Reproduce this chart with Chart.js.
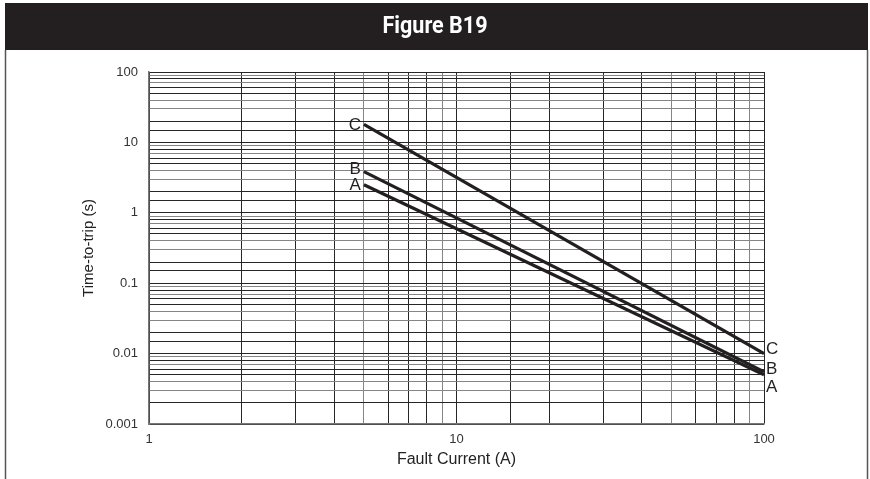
<!DOCTYPE html>
<html>
<head>
<meta charset="utf-8">
<script src="https://cdn.jsdelivr.net/npm/chart.js@4.4.0/dist/chart.umd.min.js"></script>
<style>
  body { margin: 0; background: #fff; }
  canvas { display: block; }
</style>
</head>
<body>
<canvas id="tripChart" width="870" height="479"></canvas>
<script>
// fault current (A) at the two ends of each curve
const currents = [5, 100];
// time-to-trip (s) for each curve
const curveA = [2.5, 0.005];
const curveB = [3.85, 0.0055];
const curveC = [18, 0.01];
const curveNames = ["A", "B", "C"];
const xTicks = [1, 10, 100];
const yTicks = [0.001, 0.01, 0.1, 1, 10, 100];

const INK = "#231f20";
const FONT = "'Liberation Sans', Arial, sans-serif";

function pts(values) {
  return currents.map((x, i) => ({ x: x, y: values[i] }));
}

function matchTick(list, v) {
  return list.find(t => Math.abs(t - v) / t < 1e-6);
}

// grid shade by the leading digit of the tick value (mimics the printed sheet)
function gridShade(v, darkDigits) {
  const lead = Math.round(v / Math.pow(10, Math.floor(Math.log10(v) + 1e-9)));
  return darkDigits.includes(lead) ? "#262626" : "#858585";
}

// header bar, frame lines
const pagePlugin = {
  id: "page",
  beforeDraw(chart) {
    const c = chart.ctx;
    c.save();
    c.fillStyle = "#fff";
    c.fillRect(0, 0, chart.width, chart.height);
    c.fillStyle = INK;
    c.fillRect(5, 3, 863, 47);
    c.fillStyle = "#fff";
    c.font = "bold 24px Roboto, 'Liberation Sans', sans-serif";
    c.textAlign = "center";
    c.textBaseline = "middle";
    // squeeze to a condensed look
    const w = c.measureText("Figure B19").width;
    c.translate(435, 27);
    c.scale(105 / w, 1);
    c.fillText("Figure B19", 0, 0);
    c.restore();
    c.save();
    c.strokeStyle = "#555";
    c.lineWidth = 1.5;
    c.beginPath();
    c.moveTo(5.5, 50); c.lineTo(5.5, chart.height);
    c.moveTo(867.5, 50); c.lineTo(867.5, chart.height);
    c.stroke();
    c.restore();
  }
};

// curve letters at both ends of each line
const curveLabels = {
  id: "curveLabels",
  afterDatasetsDraw(chart) {
    const c = chart.ctx;
    const rightShift = [13, -3, -4];
    const leftShift = [1, -2, 1];
    c.save();
    c.fillStyle = INK;
    c.font = "17px " + FONT;
    c.textBaseline = "middle";
    chart.data.datasets.forEach((ds, i) => {
      const meta = chart.getDatasetMeta(i);
      const first = meta.data[0];
      const last = meta.data[meta.data.length - 1];
      c.textAlign = "right";
      c.fillText(curveNames[i], first.x - 3, first.y + leftShift[i]);
      c.textAlign = "left";
      c.fillText(curveNames[i], last.x + 2, last.y + rightShift[i]);
    });
    c.restore();
  }
};

new Chart(document.getElementById("tripChart"), {
  type: "line",
  data: {
    datasets: [curveA, curveB, curveC].map((vals, i) => ({
      label: curveNames[i],
      data: pts(vals),
      borderColor: INK,
      borderWidth: 3.2,
      pointRadius: 0,
      tension: 0,
      fill: false
    }))
  },
  options: {
    responsive: false,
    animation: false,
    devicePixelRatio: 1,
    layout: { padding: { top: 72, right: 106, left: 80, bottom: 0 } },
    plugins: { legend: { display: false }, tooltip: { enabled: false } },
    scales: {
      x: {
        type: "logarithmic",
        position: "bottom",
        min: 1,
        max: 100,
        afterFit: s => { s.height = 55; },
        border: { color: "#777", width: 1.5 },
        grid: {
          drawTicks: false,
          color: ctx => gridShade(ctx.tick.value, [1, 2, 3, 4, 6, 7, 8]),
          lineWidth: 1
        },
        ticks: {
          autoSkip: false,
          maxRotation: 0,
          padding: 8,
          color: "#333",
          font: { family: FONT, size: 13 },
          callback: v => {
            const t = matchTick(xTicks, v);
            return t === undefined ? "" : String(t);
          }
        },
        title: {
          display: true,
          text: "Fault Current (A)",
          color: "#222",
          font: { family: FONT, size: 16 },
          padding: { top: 0, bottom: 10 }
        }
      },
      y: {
        type: "logarithmic",
        min: 0.001,
        max: 100,
        afterFit: s => { s.width = 69; },
        border: { color: "#777", width: 1.5 },
        grid: {
          drawTicks: false,
          color: ctx => gridShade(ctx.tick.value, [1, 2, 5, 6, 8]),
          lineWidth: 1
        },
        ticks: {
          autoSkip: false,
          padding: 11,
          color: "#333",
          font: { family: FONT, size: 13 },
          callback: v => {
            const t = matchTick(yTicks, v);
            return t === undefined ? "" : String(t);
          }
        },
        title: {
          display: true,
          text: "Time-to-trip (s)",
          color: "#222",
          font: { family: FONT, size: 15 },
          padding: { top: 0, bottom: 0 }
        }
      }
    }
  },
  plugins: [pagePlugin, curveLabels]
});
</script>
</body>
</html>
